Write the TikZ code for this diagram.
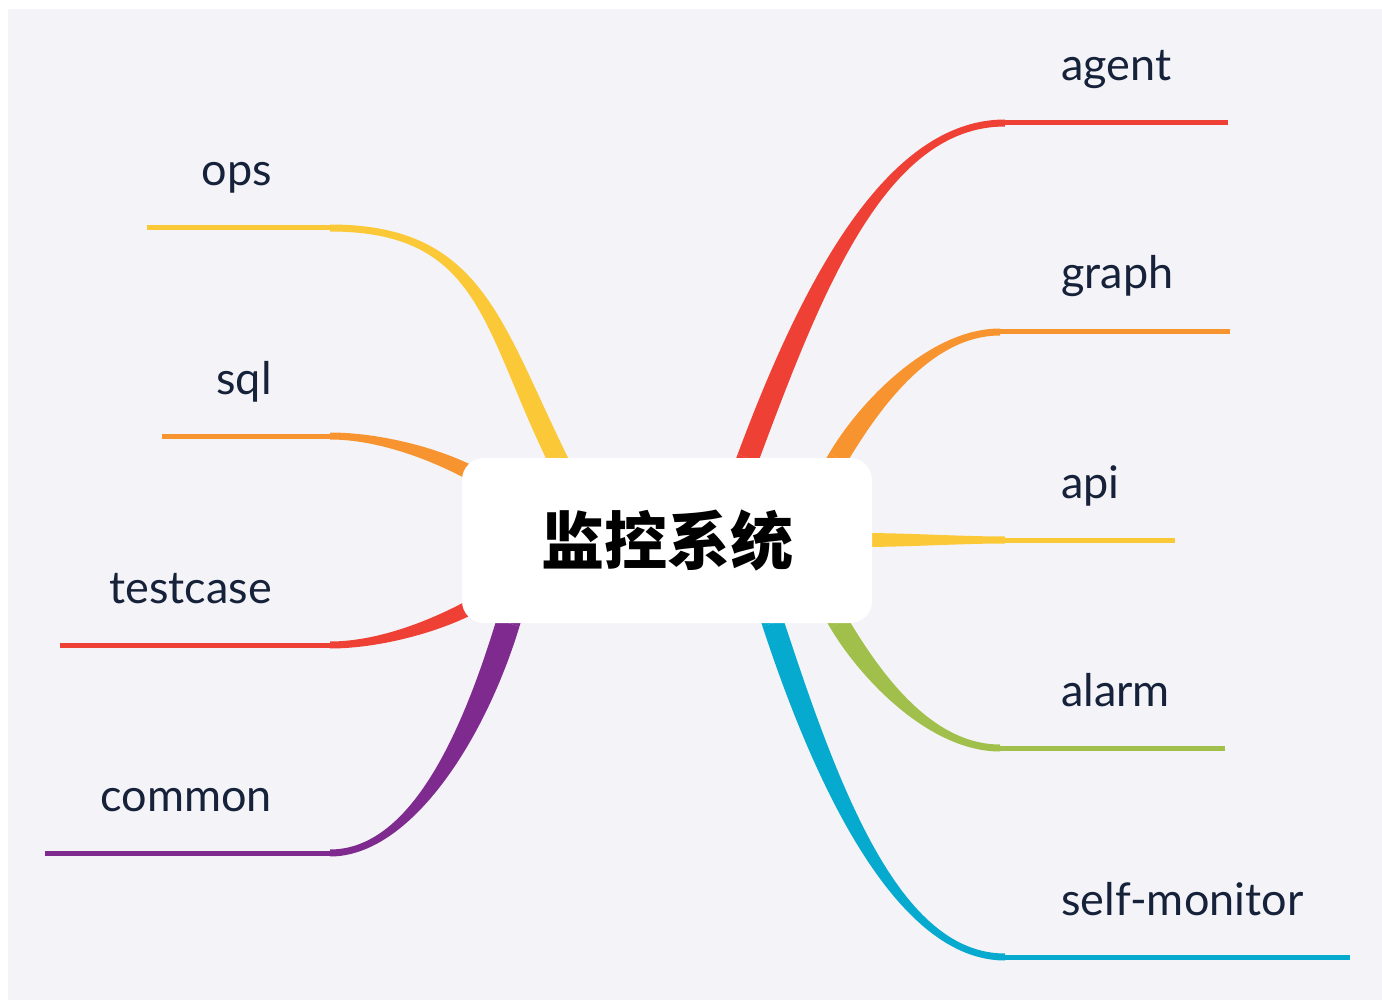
\documentclass[tikz,border=0pt]{standalone}
\usepackage{fontspec}
\setmainfont{Lato}
\newfontfamily\cjkfont{Noto Sans CJK SC}
\usetikzlibrary{calc}
\definecolor{bg}{HTML}{F4F4F8}
\definecolor{cred}{HTML}{EE4035}
\definecolor{corange}{HTML}{F7942F}
\definecolor{cyellow}{HTML}{FBC837}
\definecolor{cgreen}{HTML}{A1C04B}
\definecolor{ccyan}{HTML}{07AACF}
\definecolor{cpurple}{HTML}{7E2A8E}
\definecolor{ctext}{HTML}{16213A}
% #1 start, #2 ctrl1, #3 ctrl2, #4 end, #5 half width at start, #6 half width at end, #7 colour
\newcommand\taperbranch[7]{%
  \draw[#7, line width=2*#5] (#1) -- ($(#1)!-25pt!(#2)$);
  \fill[#7] ($(#1)!#5!90:(#2)$) .. controls ($(#2)!#5!-90:(#1)$) and ($(#3)!#6!90:(#4)$) .. ($(#4)!#6!-90:(#3)$)
    -- ($(#4)!#6!90:(#3)$) .. controls ($(#3)!#6!-90:(#4)$) and ($(#2)!#5!90:(#1)$) .. ($(#1)!#5!-90:(#2)$) -- cycle;
}
\tikzset{
  lbl/.style={text=ctext, font=\fontsize{45}{54}\selectfont, inner sep=0pt},
  tail/.style={line width=5pt},
  topic/.style={fill=white, rounded corners=22pt, minimum width=410pt, minimum height=165pt, inner sep=0pt,
    font=\cjkfont\bfseries\fontsize{63}{70}\selectfont, text=black},
}
\begin{document}
\begin{tikzpicture}[x=1pt, y=-1pt]
\useasboundingbox (0,0) rectangle (1382,1000);
\fill[white] (0,0) rectangle (1382,1000);
\fill[bg] (8,9) rectangle (1382,1000);

% coordinates
\coordinate (agent-s) at (748,458); \coordinate (agent-a) at (811,289); \coordinate (agent-b) at (885,123); \coordinate (agent-e) at (1005,123); \coordinate (agent-t) at (1228,123);
\coordinate (graph-s) at (838,458); \coordinate (graph-a) at (869,406); \coordinate (graph-b) at (930,332); \coordinate (graph-e) at (1000,332); \coordinate (graph-t) at (1230,332);
\coordinate (api-s) at (860,540); \coordinate (api-a) at (910,540); \coordinate (api-b) at (960,540); \coordinate (api-e) at (1005,540); \coordinate (api-t) at (1175,540);
\coordinate (alarm-s) at (839,623); \coordinate (alarm-a) at (870,675); \coordinate (alarm-b) at (930,748); \coordinate (alarm-e) at (1000,748); \coordinate (alarm-t) at (1225,748);
\coordinate (mon-s) at (773,623); \coordinate (mon-a) at (829,794); \coordinate (mon-b) at (900,957); \coordinate (mon-e) at (1005,957); \coordinate (mon-t) at (1350,957);
\coordinate (ops-s) at (557,458); \coordinate (ops-a) at (491,323); \coordinate (ops-b) at (480,228); \coordinate (ops-e) at (330,228); \coordinate (ops-t) at (147,228);
\coordinate (sql-s) at (480,478); \coordinate (sql-a) at (440,455); \coordinate (sql-b) at (380,436); \coordinate (sql-e) at (330,436); \coordinate (sql-t) at (162,436);
\coordinate (tc-s) at (480,602); \coordinate (tc-a) at (440,625); \coordinate (tc-b) at (380,645); \coordinate (tc-e) at (330,645); \coordinate (tc-t) at (60,645);
\coordinate (com-s) at (508,623); \coordinate (com-a) at (473,738); \coordinate (com-b) at (410,853); \coordinate (com-e) at (330,853); \coordinate (com-t) at (45,853);

% branches
\taperbranch{agent-s}{agent-a}{agent-b}{agent-e}{11pt}{3.5pt}{cred}
\draw[tail, cred] (agent-e) -- (agent-t);
\taperbranch{graph-s}{graph-a}{graph-b}{graph-e}{10pt}{3.5pt}{corange}
\draw[tail, corange] (graph-e) -- (graph-t);
\taperbranch{api-s}{api-a}{api-b}{api-e}{7pt}{3.5pt}{cyellow}
\draw[tail, cyellow] (api-e) -- (api-t);
\taperbranch{alarm-s}{alarm-a}{alarm-b}{alarm-e}{10pt}{3.5pt}{cgreen}
\draw[tail, cgreen] (alarm-e) -- (alarm-t);
\taperbranch{mon-s}{mon-a}{mon-b}{mon-e}{11pt}{3.5pt}{ccyan}
\draw[tail, ccyan] (mon-e) -- (mon-t);
\taperbranch{ops-s}{ops-a}{ops-b}{ops-e}{10pt}{3.5pt}{cyellow}
\draw[tail, cyellow] (ops-e) -- (ops-t);
\taperbranch{sql-s}{sql-a}{sql-b}{sql-e}{7.5pt}{3.5pt}{corange}
\draw[tail, corange] (sql-e) -- (sql-t);
\taperbranch{tc-s}{tc-a}{tc-b}{tc-e}{7.5pt}{3.5pt}{cred}
\draw[tail, cred] (tc-e) -- (tc-t);
\taperbranch{com-s}{com-a}{com-b}{com-e}{12pt}{3.5pt}{cpurple}
\draw[tail, cpurple] (com-e) -- (com-t);

% central topic
\node[topic] (center) at (667,540.5) {监控系统};

% labels
\node[lbl, anchor=base west] (agent) at (1061,81) {agent};
\node[lbl, anchor=base west] (graph) at (1061,289) {graph};
\node[lbl, anchor=base west] (api) at (1061,498) {api};
\node[lbl, anchor=base west] (alarm) at (1061,706) {alarm};
\node[lbl, anchor=base west] (selfmonitor) at (1061,915) {self-monitor};
\node[lbl, anchor=base east] (ops) at (272,186) {ops};
\node[lbl, anchor=base east] (sql) at (272,394) {sql};
\node[lbl, anchor=base east] (testcase) at (272,603) {testcase};
\node[lbl, anchor=base east] (common) at (272,811) {common};
\end{tikzpicture}
\end{document}
